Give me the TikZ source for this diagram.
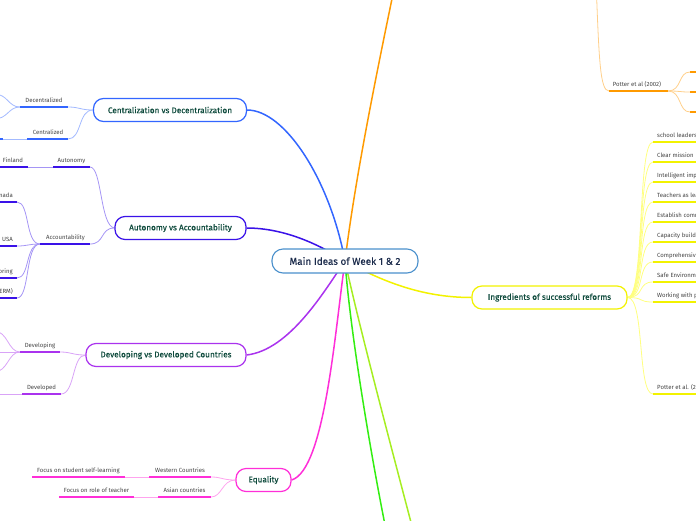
\documentclass[tikz,border=0pt]{standalone}
\usepackage{fontspec}
\setmainfont{Fira Sans}
\newfontfamily\topicfont[FakeBold=0.35]{Fira Sans}
\definecolor{blueC}{HTML}{3366FF}\definecolor{blueL}{HTML}{A3BAFF}
\definecolor{indC}{HTML}{3A12E8}\definecolor{indL}{HTML}{A595F5}
\definecolor{purC}{HTML}{AA33EE}\definecolor{purL}{HTML}{D9A3F7}
\definecolor{magC}{HTML}{FF2ED8}\definecolor{magL}{HTML}{FFA3EE}
\definecolor{yelC}{HTML}{F2F200}\definecolor{yelL}{HTML}{FFFF80}
\definecolor{oraC}{HTML}{FF9A00}\definecolor{oraL}{HTML}{FFCF8A}
\definecolor{greC}{HTML}{33EE11}\definecolor{limC}{HTML}{A6EE22}
\definecolor{cenB}{HTML}{4A90CC}
\definecolor{topicT}{HTML}{0E4A3C}\definecolor{cenT}{HTML}{1B2B4B}
\definecolor{subT}{HTML}{444444}
\pgfdeclarelayer{bg}\pgfsetlayers{bg,main}
\begin{document}
\begin{tikzpicture}[x=1pt,y=-1pt,
  topic/.style={draw=#1, line width=1.2pt, fill=white, rounded corners=10pt, inner sep=0pt,
    minimum height=23pt, font=\topicfont\fontsize{8.2}{9}\selectfont, text=topicT},
  centre/.style={draw=cenB, line width=1.1pt, fill=white, rounded corners=11pt, inner sep=0pt,
    minimum height=24pt, font=\topicfont\fontsize{9.9}{11}\selectfont, text=cenT},
  sub/.style={font=\fontsize{6}{7}\selectfont, text=subT, inner sep=0pt},
  uline/.style={line width=2.4pt, draw=#1},
  light/.style={line width=0.8pt, draw=#1},
  mainc/.style={line width=1.5pt, draw=#1}]
\useasboundingbox (0,0) rectangle (696,520);
\clip (0,0) rectangle (696,520);

% topic nodes
\node[centre, minimum width=146pt] (main) at (345,261) {Main Ideas of Week 1 \& 2};
\node[topic=blueC, minimum width=153pt] (cent) at (170,110) {Centralization vs Decentralization};
\node[topic=indC, minimum width=131pt] (auto) at (180.5,228) {Autonomy vs Accountability};
\node[topic=purC, minimum width=160pt] (dev) at (166,355) {Developing vs Developed Countries};
\node[topic=magC, minimum width=55pt] (eq) at (263.5,480) {Equality};
\node[topic=yelC, minimum width=155pt] (ingr) at (549.5,297.5) {Ingredients of successful reforms};

% free ends of main branches leaving the picture
\coordinate (oraEnd) at (398,-30);
\coordinate (greEnd) at (386,530);
\coordinate (limEnd) at (413,530);

% ---------- underline coordinates ----------
\coordinate (decL) at (20,107); \coordinate (decR) at (68,107);
\coordinate (cenzL) at (27,139); \coordinate (cenzR) at (68,139);
\coordinate (cenzcL) at (-20,139); \coordinate (cenzcR) at (3,139);
\coordinate (decc1) at (-6,94); \coordinate (decc2) at (-6,119);
\coordinate (autL) at (53,167); \coordinate (autR) at (90,167);
\coordinate (finL) at (-10,167); \coordinate (finR) at (28,167);
\coordinate (accL) at (40,244); \coordinate (accR) at (90,244);
\coordinate (canL) at (-10,202); \coordinate (canR) at (17,202);
\coordinate (usaL) at (-10,246); \coordinate (usaR) at (17,246);
\coordinate (rinL) at (-10,278); \coordinate (rinR) at (17,278);
\coordinate (ermL) at (-10,298); \coordinate (ermR) at (17,298);
\coordinate (dvgL) at (20,352); \coordinate (dvgR) at (60,352);
\coordinate (dvdL) at (22,394); \coordinate (dvdR) at (61,394);
\coordinate (dvg1) at (-6,331); \coordinate (dvg2) at (-6,352); \coordinate (dvg3) at (-6,372);
\coordinate (dvd1) at (-6,394);
\coordinate (wesL) at (149,477); \coordinate (wesR) at (211,477);
\coordinate (fslL) at (32,477); \coordinate (fslR) at (125,477);
\coordinate (asiL) at (158,497); \coordinate (asiR) at (211,497);
\coordinate (frtL) at (59,497); \coordinate (frtR) at (134,497);
\coordinate (potTop) at (596,-20);
\coordinate (potL) at (609,91); \coordinate (potR) at (668,91);
\coordinate (pot1) at (690,72); \coordinate (pot2) at (690,92); \coordinate (pot3) at (690,112);

% ---------- underlines ----------
\draw[uline=blueC] (decL) -- (decR);
\draw[uline=blueC] (cenzL) -- (cenzR);
\draw[uline=blueC] (cenzcL) -- (cenzcR);
\draw[uline=indC] (autL) -- (autR);
\draw[uline=indC] (finL) -- (finR);
\draw[uline=indC] (accL) -- (accR);
\draw[uline=indC] (canL) -- (canR);
\draw[uline=indC] (usaL) -- (usaR);
\draw[uline=indC] (rinL) -- (rinR);
\draw[uline=indC] (ermL) -- (ermR);
\draw[uline=purC] (dvgL) -- (dvgR);
\draw[uline=purC] (dvdL) -- (dvdR);
\draw[uline=magC] (wesL) -- (wesR);
\draw[uline=magC] (fslL) -- (fslR);
\draw[uline=magC] (asiL) -- (asiR);
\draw[uline=magC] (frtL) -- (frtR);
\draw[uline=oraC] (potL) -- (potR);
\foreach \n in {1,2,3} { \draw[uline=oraC] (pot\n) -- ++(20,0); }

% ---------- texts ----------
\node[sub, anchor=base] (tDec) at (44,102.5) {Decentralized};
\node[sub, anchor=base] (tCenz) at (48,134.5) {Centralized};
\node[sub, anchor=base] (tAut) at (71.5,162.5) {Autonomy};
\node[sub, anchor=base] (tFin) at (13,162.5) {Finland};
\node[sub, anchor=base] (tAcc) at (65.5,239.5) {Accountability};
\node[sub, anchor=base east] (tCan) at (13,197.5) {Canada};
\node[sub, anchor=base east] (tUsa) at (13,241.5) {USA};
\node[sub, anchor=base east] (tRin) at (13,273.5) {Monitoring};
\node[sub, anchor=base east] (tErm) at (13,293.5) {(ERM)};
\node[sub, anchor=base] (tDvg) at (40,347.5) {Developing};
\node[sub, anchor=base] (tDvd) at (41.5,389.5) {Developed};
\node[sub, anchor=base] (tWes) at (180,472.5) {Western Countries};
\node[sub, anchor=base] (tFsl) at (78.5,472.5) {Focus on student self-learning};
\node[sub, anchor=base] (tAsi) at (184.5,492.5) {Asian countries};
\node[sub, anchor=base] (tFrt) at (96.5,492.5) {Focus on role of teacher};
\node[sub, anchor=base] (tPot) at (637,86.5) {Potter et al (2002)};

\foreach \y/\t [count=\i] in {142/school leadership, 162/Clear mission, 182/Intelligent implementation,
   202/Teachers as leaders, 222/Establish community, 242/Capacity building, 262/Comprehensive,
   282/Safe Environment, 302/Working with parents, 394/Potter et al. (2002)} {
  \coordinate (r\i L) at (653,\y);
  \draw[uline=yelC] (r\i L) -- ++(60,0);
  \node[sub, anchor=base west] (r\i t) at (657,\y-4.5) {\t};
  \begin{pgfonlayer}{bg}
    \draw[light=yelL] (ingr.east) .. controls (645,297.5) and (637,\y) .. (r\i L);
  \end{pgfonlayer}
}

% ---------- connectors ----------
\begin{pgfonlayer}{bg}
\draw[mainc=blueC] (main.center) .. controls (330,180) and (285,110) .. (cent.east);
\draw[mainc=indC] (main.center) .. controls (320,245) and (285,228) .. (auto.east);
\draw[mainc=purC] (main.center) .. controls (325,290) and (290,350) .. (dev.east);
\draw[mainc=magC] (main.center) .. controls (335,330) and (325,470) .. (eq.east);
\draw[mainc=oraC] (main.center) .. controls (355,180) and (375,80) .. (oraEnd);
\draw[mainc=yelC] (main.center) .. controls (380,280) and (420,297.5) .. (ingr.west);
\draw[mainc=greC] (main.center) .. controls (350,330) and (370,450) .. (greEnd);
\draw[mainc=limC] (main.center) .. controls (360,330) and (392,450) .. (limEnd);

\draw[light=blueL] (cent.west) .. controls (80,110) and (80,107) .. (decR);
\draw[light=blueL] (cent.west) .. controls (78,110) and (82,139) .. (cenzR);
\draw[light=blueL] (cenzL) -- (cenzcR);
\draw[light=blueL] (decL) .. controls (8,107) and (8,94) .. (decc1);
\draw[light=blueL] (decL) .. controls (8,107) and (8,119) .. (decc2);

\draw[light=indL] (auto.west) .. controls (100,226) and (102,167) .. (autR);
\draw[light=indL] (auto.west) .. controls (100,228) and (105,244) .. (accR);
\draw[light=indL] (autL) -- (finR);
\draw[light=indL] (accL) .. controls (25,244) and (30,202) .. (canR);
\draw[light=indL] (accL) .. controls (28,244) and (28,246) .. (usaR);
\draw[light=indL] (accL) .. controls (25,244) and (30,278) .. (rinR);
\draw[light=indL] (accL) .. controls (25,244) and (30,298) .. (ermR);

\draw[light=purL] (dev.west) .. controls (72,355) and (72,352) .. (dvgR);
\draw[light=purL] (dev.west) .. controls (72,355) and (75,394) .. (dvdR);
\draw[light=purL] (dvgL) .. controls (8,352) and (8,331) .. (dvg1);
\draw[light=purL] (dvgL) -- (dvg2);
\draw[light=purL] (dvgL) .. controls (8,352) and (8,372) .. (dvg3);
\draw[light=purL] (dvdL) -- (dvd1);

\draw[light=magL] (eq.west) .. controls (222,480) and (222,477) .. (wesR);
\draw[light=magL] (eq.west) .. controls (222,480) and (222,497) .. (asiR);
\draw[light=magL] (wesL) -- (fslR);
\draw[light=magL] (asiL) -- (frtR);

\draw[light=oraL] (potTop) .. controls (599,60) and (600,91) .. (potL);
\foreach \n in {1,2,3} { \draw[light=oraL] (potR) .. controls (682,91) and (678,\ifcase\n\or72\or92\or112\fi) .. (pot\n); }
\end{pgfonlayer}
\end{tikzpicture}
\end{document}
